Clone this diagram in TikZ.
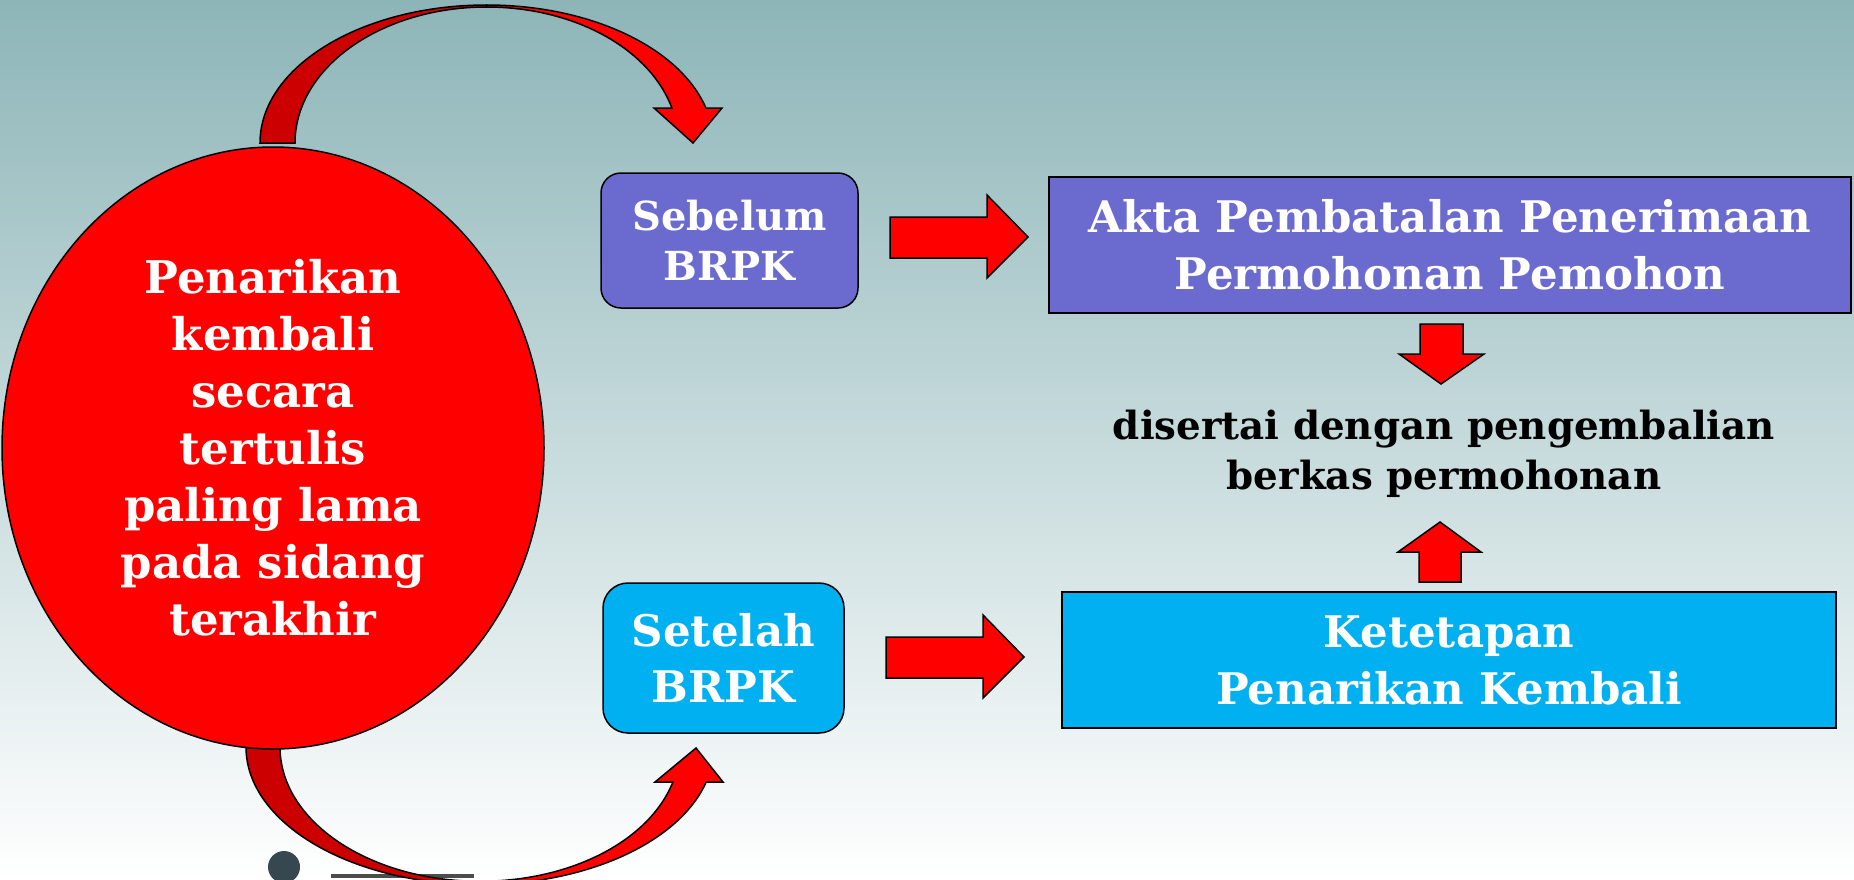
\documentclass[tikz,border=0pt]{standalone}
\usepackage{fontspec}
\setmainfont{DejaVu Serif}
\usetikzlibrary{shapes.geometric}
\definecolor{redfill}{HTML}{FF0000}
\definecolor{darkred}{HTML}{CC0000}
\definecolor{purplebox}{HTML}{6B6BCF}
\definecolor{cyanbox}{HTML}{00B0F0}
\definecolor{bgtop}{HTML}{8DB5B8}
\definecolor{bgmid}{HTML}{D9E6E7}
\definecolor{icongray}{HTML}{37474F}
\tikzset{
  redshape/.style={fill=redfill, draw=black, line width=1.5pt},
  backshape/.style={fill=darkred, draw=black, line width=1.5pt},
  whitetext/.style={text=white, align=center, font=\bfseries\fontsize{43.5pt}{57pt}\selectfont},
  stagebox/.style={whitetext, draw=black, line width=1.5pt, inner sep=0pt},
  resultbox/.style={whitetext, draw=black, line width=2pt, inner sep=0pt},
}
\begin{document}
\begin{tikzpicture}[x=1pt,y=-1pt]
    \clip (0,0) rectangle (1854,879);
    \shade[top color=bgtop, middle color=bgmid, bottom color=white] (0,0) rectangle (1854,879);
    % icon in the corner
    \fill[icongray] (284,867) circle (16pt);
    \draw[gray!60!black, line width=4pt] (331,876) -- (474,876);
    % curved arrows
    \draw[backshape] (260,143) .. controls (260,66.8) and (361.5,5) .. (486.7,5) -- (486.7,7)
        .. controls (380.8,7) and (295,67.9) .. (295,143) -- cycle;
    \draw[redshape] (486.7,5) .. controls (589.8,5) and (679.7,47.3) .. (705.9,108) -- (722,108)
        -- (693,143) -- (654,108) -- (671.9,108) .. controls (649.5,48.3) and (573.9,7) .. (486.7,7) -- cycle;
    \draw[backshape] (246,740) -- (246,747) .. controls (246,823) and (350.8,884.6) .. (480,884.6)
        -- (480,881.3) .. controls (369.6,881.3) and (280,821.2) .. (280,747) -- (280,740) -- cycle;
    \draw[redshape] (480,884.6) .. controls (586.4,884.6) and (679.1,842.5) .. (706.2,782) -- (723,782)
        -- (696,748) -- (655,782) -- (672.9,782) .. controls (649.2,841) and (570.8,881.3) .. (480,881.3) -- cycle;
    % nodes
    \node[ellipse, whitetext, fill=redfill, draw=black, line width=1.5pt, inner sep=0pt,
        minimum width=542pt, minimum height=602pt, font=\bfseries\fontsize{45pt}{57pt}\selectfont] (tarik) at (273,448)
        {Penarikan\\kembali\\secara\\tertulis\\paling lama\\pada sidang\\terakhir};
    \node[stagebox, fill=purplebox, rounded corners=20pt, minimum width=257pt, minimum height=135pt,
        font=\bfseries\fontsize{40pt}{50pt}\selectfont] (sebelum) at (729.5,240.5) {Sebelum\\BRPK};
    \node[stagebox, fill=cyanbox, rounded corners=25pt, minimum width=241pt, minimum height=150pt,
        font=\bfseries\fontsize{43.5pt}{56pt}\selectfont] (setelah) at (723.5,658) {Setelah\\BRPK};
    \node[resultbox, fill=purplebox, minimum width=802pt, minimum height=136pt] (akta) at (1450,245)
        {Akta Pembatalan Penerimaan\\Permohonan Pemohon};
    \node[resultbox, fill=cyanbox, minimum width=774pt, minimum height=136pt] (ketetapan) at (1449,660)
        {Ketetapan\\Penarikan Kembali};
    \node[align=center, font=\bfseries\fontsize{38.8pt}{50pt}\selectfont] (berkas) at (1444,454)
        {disertai dengan pengembalian\\berkas permohonan};
    % block arrows
    \draw[redshape] (890,217) -- (987,217) -- (987,195) -- (1028,237) -- (987,278) -- (987,258) -- (890,258) -- cycle;
    \draw[redshape] (886,637) -- (983,637) -- (983,615) -- (1024,657) -- (983,698) -- (983,678) -- (886,678) -- cycle;
    \draw[redshape] (1420,324) -- (1463,324) -- (1463,354) -- (1484,354) -- (1441,384) -- (1399,354) -- (1420,354) -- cycle;
    \draw[redshape] (1419,582) -- (1461,582) -- (1461,552) -- (1481,552) -- (1440,522) -- (1398,552) -- (1419,552) -- cycle;
\end{tikzpicture}
\end{document}
